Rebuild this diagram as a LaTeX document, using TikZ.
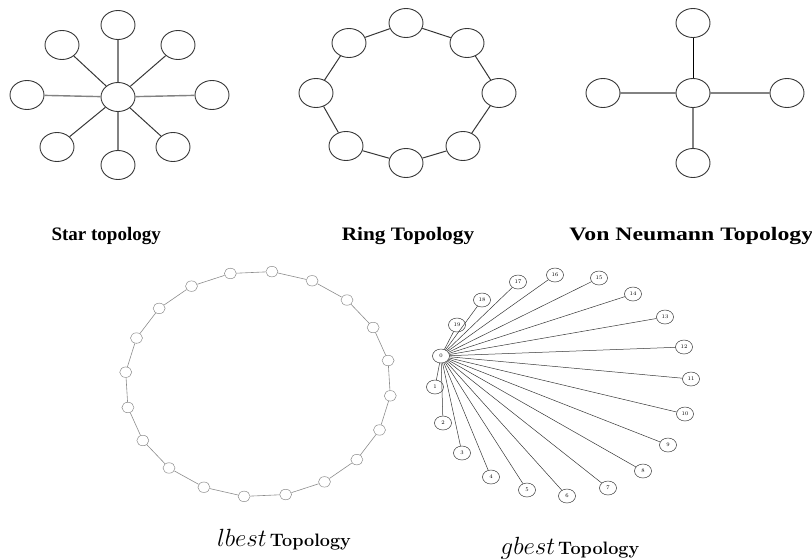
\documentclass[tikz,border=0pt]{standalone}
\usepackage{fontspec}
\newfontfamily\capfont{Liberation Serif}
\usetikzlibrary{shapes.geometric}
\definecolor{edgedark}{RGB}{55, 55, 55}
\definecolor{edgelight}{RGB}{130, 130, 130}
\definecolor{ringgray}{RGB}{140, 140, 140}

\tikzset{
  bignode/.style={ellipse, draw=edgedark, line width=0.9pt, minimum width=34pt, minimum height=29pt, inner sep=0pt},
  lnode/.style={ellipse, draw=ringgray, line width=0.5pt, minimum width=12pt, minimum height=10.5pt, inner sep=0pt},
  gnode/.style={ellipse, draw=edgedark, line width=0.5pt, minimum width=17pt, minimum height=14pt, inner sep=0pt, font=\fontsize{5.5}{5.5}\selectfont},
  darkedge/.style={draw=edgedark, line width=1pt},
  lightedge/.style={draw=edgelight, line width=1.4pt},
  toplabel/.style={font=\capfont\bfseries\fontsize{19}{19}\selectfont},
  lowlabel/.style={font=\fontsize{18}{18}\selectfont}
}

\begin{document}
\begin{tikzpicture}[x=1pt, y=-1pt]
  \useasboundingbox (0,0) rectangle (812,560);

  % star topology
  \node[bignode] (s0) at (118,97) {};
  \node[bignode] (st) at (118,25) {};
  \node[bignode] (stl) at (62,45) {};
  \node[bignode] (str) at (178,45) {};
  \node[bignode] (sl) at (27,95) {};
  \node[bignode] (sr) at (212,95) {};
  \node[bignode] (sbl) at (57,147) {};
  \node[bignode] (sb) at (118,165) {};
  \node[bignode] (sbr) at (173,147) {};
  \draw[lightedge] (s0) -- (st);
  \draw[lightedge] (s0) -- (sb);
  \draw[lightedge] (s0) -- (sl);
  \draw[lightedge] (s0) -- (sr);
  \draw[darkedge] (s0) -- (stl);
  \draw[darkedge] (s0) -- (str);
  \draw[darkedge] (s0) -- (sbl);
  \draw[darkedge] (s0) -- (sbr);
  \node[toplabel, anchor=west] (starlabel) at (48,236) {Star topology};

  % ring topology
  \node[bignode] (r1) at (406,23) {};
  \node[bignode] (r2) at (467,43) {};
  \node[bignode] (r3) at (499,93) {};
  \node[bignode] (r4) at (463,146) {};
  \node[bignode] (r5) at (406,163) {};
  \node[bignode] (r6) at (346,146) {};
  \node[bignode] (r7) at (316,93) {};
  \node[bignode] (r8) at (349,43) {};
  \foreach \i [remember=\i as \j (initially 8)] in {1,...,8}
    \draw[darkedge] (r\j) -- (r\i);
  \node[toplabel, xscale=1.12] (ringlabel) at (408,236) {Ring Topology};

  % von Neumann topology
  \node[bignode] (v0) at (693,93) {};
  \node[bignode] (vt) at (693,23) {};
  \node[bignode] (vl) at (603,93) {};
  \node[bignode] (vr) at (787,93) {};
  \node[bignode] (vb) at (693,163) {};
  \draw[darkedge, draw=black] (v0) -- (vt);
  \draw[lightedge] (v0) -- (vl);
  \draw[lightedge] (v0) -- (vr);
  \draw[lightedge] (v0) -- (vb);
  \node[toplabel, anchor=west, xscale=1.25] (vonlabel) at (565,236) {Von Neumann Topology};

  % lbest topology
  \foreach \i in {1,...,20}
    \node[lnode] (l\i) at ({258+133*cos(102-18*(\i-1))},{384-113*sin(102-18*(\i-1))}) {};
  \foreach \i [remember=\i as \j (initially 20)] in {1,...,20}
    \draw[ringgray, line width=0.6pt] (l\j) -- (l\i);
  \node[lowlabel] (lbestlabel) at (284,540) {{\fontsize{24}{24}\selectfont$lbest$}\,\textbf{Topology}};

  % gbest topology
  \node[gnode] (g0) at (441,356) {0};
  \foreach \n/\x/\y in {1/435/387, 2/443/423, 3/462/453, 4/491/477, 5/527/490,
      6/567/496, 7/608/488, 8/643/471, 9/668/445, 10/685/414, 11/691/379,
      12/684/347, 13/665/317, 14/633/294, 15/599/278, 16/555/275, 17/518/282,
      18/482/300, 19/457/325} {
    \node[gnode] (g\n) at (\x,\y) {\n};
    \draw[edgedark, line width=0.5pt] (g0) -- (g\n);
  }
  \node[lowlabel] (gbestlabel) at (570,548) {{\fontsize{24}{24}\selectfont$gbest$}\,\textbf{Topology}};
\end{tikzpicture}
\end{document}
